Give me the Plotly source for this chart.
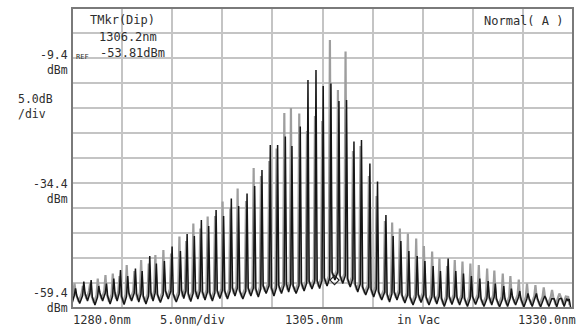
import plotly.graph_objects as go

# ---- data ----
mode_nm = [1280.35, 1281.18, 1281.91, 1282.67, 1283.44, 1284.17, 1284.84, 1285.56, 1286.33, 1287.00,
           1287.76, 1288.42, 1289.22, 1289.99, 1290.82, 1291.49, 1292.21, 1292.91, 1293.64, 1294.38,
           1295.13, 1295.90, 1296.63, 1297.47, 1298.23, 1298.96, 1299.79, 1300.52, 1301.29, 1301.95,
           1302.78, 1303.55, 1304.35, 1305.07, 1305.84, 1306.64, 1307.40, 1308.14, 1308.89, 1309.73,
           1310.49, 1311.33, 1312.05, 1312.82, 1313.62, 1314.45, 1315.22, 1316.04, 1316.77, 1317.54,
           1318.30, 1319.07, 1319.86, 1320.70, 1321.53, 1322.25, 1323.09, 1323.85, 1324.69, 1325.51,
           1326.35, 1327.18, 1328.01, 1328.74, 1329.50]

black_dbm = [-55.5, -54.1, -53.8, -55.0, -54.5, -53.5, -51.8, -53.0, -51.5, -52.0,
             -49.0, -50.5, -50.0, -47.1, -48.0, -44.6, -45.0, -41.8, -43.0, -39.8,
             -41.0, -37.5, -39.0, -36.5, -35.0, -31.8, -26.8, -26.8, -25.1, -27.0,
             -23.1, -13.8, -11.8, -15.0, -14.5, -18.0, -17.8, -26.1, -25.8, -30.5,
             -34.1, -40.8, -45.0, -46.0, -48.0, -49.0, -50.0, -51.0, -52.0, -49.5,
             -52.0, -52.5, -53.0, -53.5, -54.0, -54.5, -55.0, -55.5, -56.0, -56.5,
             -56.5, -57.0, -57.5, -57.5, -58.0]

gray_dbm = [-54.5, -55.0, -54.5, -53.5, -52.8, -52.5, -53.0, -50.8, -52.0, -49.8,
            -50.5, -48.8, -47.8, -48.5, -45.1, -46.0, -42.5, -43.5, -41.1, -41.0,
            -38.1, -39.5, -35.5, -38.0, -31.4, -33.0, -30.0, -27.5, -20.4, -19.4,
            -20.5, -24.0, -21.0, -22.0, -5.8, -15.8, -8.1, -28.0, -27.0, -33.0,
            -37.0, -42.0, -42.3, -43.5, -44.5, -45.5, -47.0, -48.1, -49.5, -51.0,
            -49.8, -50.1, -50.5, -50.8, -51.5, -51.9, -52.5, -53.0, -53.7, -54.5,
            -54.8, -55.3, -55.8, -56.5, -57.1]

# valley level between mode i and mode i+1 (last one: after final mode)
valley_dbm = [-58.5, -58.0, -58.8, -58.0, -58.6, -58.0, -58.7, -58.0, -58.2, -58.6,
              -58.0, -58.3, -57.6, -58.2, -57.5, -58.1, -57.6, -57.8, -58.0, -57.5,
              -57.6, -57.0, -57.6, -57.0, -57.2, -56.5, -57.0, -56.5, -56.2, -56.5,
              -56.0, -55.6, -55.5, -55.0, -53.8, -54.5, -55.2, -56.2, -56.8, -57.2,
              -57.8, -58.2, -57.8, -58.4, -58.8, -58.3, -58.8, -58.6, -59.1, -58.7,
              -58.8, -59.1, -58.7, -59.1, -58.8, -59.2, -59.1, -58.8, -59.2, -59.1,
              -59.2, -59.1, -59.2, -59.1, -59.2]

marker_nm = [1306.2]
marker_dbm = [-53.81]

x_range = [1280.0, 1330.0]
y_range = [-59.4, 0.6]

# ---- geometry (pixels) ----
W, H = 580, 329
L, R, T, B = 71.5, 573.0, 8.0, 308.0
PW, PH = R - L, B - T


def px(x):
    return (x - L) / PW


def py(y):
    return (B - y) / PH


def spikes(peaks, valleys, half=0.12, shift=0.0, lift=1.6):
    xs, ys = [x_range[0]], [valleys[0]]
    n = len(mode_nm)
    for i, (wl, pk) in enumerate(zip(mode_nm, peaks)):
        left_v = valleys[i - 1] if i > 0 else valleys[0]
        right_v = valleys[i]
        xs += [wl + shift - half, wl + shift, wl + shift + half]
        ys += [left_v + lift, pk, right_v + lift]
        nxt = mode_nm[i + 1] if i + 1 < n else x_range[1]
        xs.append((wl + nxt) / 2 + shift)
        ys.append(right_v)
    return xs, ys


fig = go.Figure()
gx, gy = spikes(gray_dbm, [v + 0.4 for v in valley_dbm], shift=-0.1)
fig.add_trace(go.Scatter(x=gx, y=gy, mode="lines",
                         line=dict(color="#9e9e9e", width=2.2), hoverinfo="skip"))
bx, by = spikes(black_dbm, valley_dbm)
fig.add_trace(go.Scatter(x=bx, y=by, mode="lines",
                         line=dict(color="#161616", width=1.5), hoverinfo="skip"))
fig.add_trace(go.Scatter(x=marker_nm, y=marker_dbm, mode="markers",
                         marker=dict(symbol="diamond-open", size=7, color="#222",
                                     line=dict(width=1.2)), hoverinfo="skip"))

FONT = "DejaVu Sans Mono"
TC = "#2e2e2e"
ann = []


def text(s, x, y, anchor="center", size=12.5, align="center"):
    ann.append(dict(text=s, xref="paper", yref="paper", x=px(x), y=py(y),
                    xanchor=anchor, yanchor="middle", showarrow=False, align=align,
                    borderpad=0,
                    font=dict(family=FONT, size=size, color=TC)))


# left axis labels
text("-9.4<br>dBm", 68, 62, "right", size=11.5, align="right")
text("5.0dB<br>/div", 16, 107, "left", size=11.5, align="left")
text("-34.4<br>dBm", 68, 191, "right", size=11.5, align="right")
text("-59.4<br>dBm", 68, 300, "right", size=11.5, align="right")
text("REF", 75, 57, "left", size=7)
# marker readout
text("TMkr(Dip)", 122, 20, size=12)
text("1306.2nm", 128, 37, size=12)
text("-53.81dBm", 132, 53, size=12)
text("Normal( A )", 523, 21, size=12)
# x axis labels
text("1280.0nm", 72, 320, "left", size=12)
text("5.0nm/div", 192, 320, size=12)
text("1305.0nm", 314, 320, size=12)
text("in Vac", 418, 320, size=12)
text("1330.0nm", 577, 320, "right", size=12)

fig.update_layout(
    width=W, height=H,
    margin=dict(l=L, r=W - R, t=T, b=H - B, pad=0),
    paper_bgcolor="white", plot_bgcolor="white",
    showlegend=False,
    annotations=ann,
    xaxis=dict(range=x_range, tick0=1280, dtick=5, showgrid=True,
               gridcolor="#c4c4c4", gridwidth=2, showticklabels=False,
               zeroline=False, ticks="", showline=False),
    yaxis=dict(range=y_range, tick0=-59.4, dtick=5, showgrid=True,
               gridcolor="#c4c4c4", gridwidth=2, showticklabels=False,
               zeroline=False, ticks="", showline=False),
    shapes=[dict(type="rect", xref="paper", yref="paper", x0=0, y0=0, x1=1, y1=1,
                 line=dict(color="#7a7a7a", width=2), layer="above")],
)

fig.write_html("out.html", config={"displayModeBar": False},
               post_script="document.body.style.margin='0';document.body.style.overflow='hidden';")
